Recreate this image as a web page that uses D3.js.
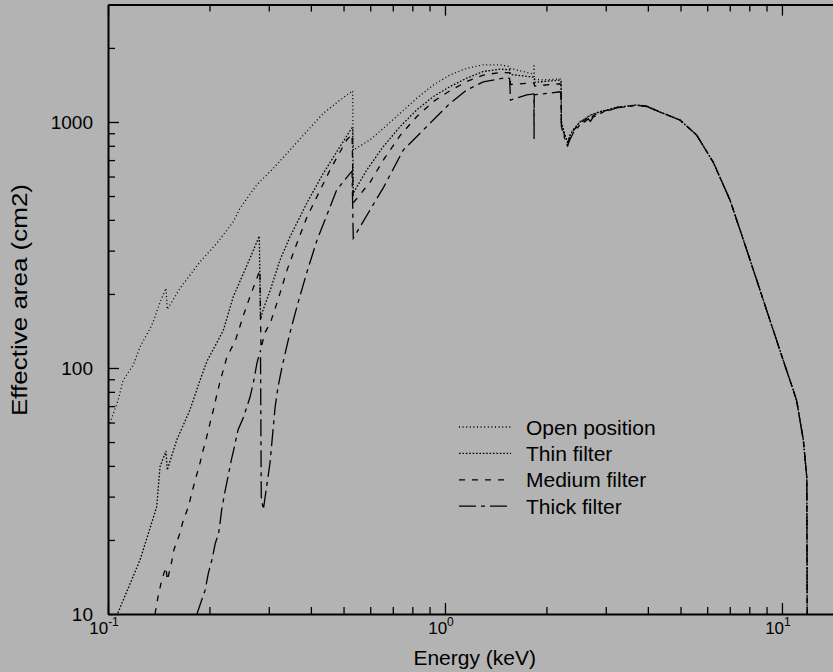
<!DOCTYPE html>
<html>
<head>
<meta charset="utf-8">
<script src="https://cdn.jsdelivr.net/npm/d3@7"></script>
<style>
  html, body { margin: 0; padding: 0; background: #b3b3b3; }
  svg { display: block; }
  text { font-family: "Liberation Sans", Arial, Helvetica, sans-serif; fill: #000; }
</style>
</head>
<body>
<svg id="chart" width="833" height="672"></svg>
<script>
// Effective area curves: [energy (keV), effective area (cm2)]
const openPosition = [
  [0.100, 58], [0.1014, 60], [0.1072, 74], [0.1108, 89], [0.1189, 103], [0.1245, 122],
  [0.1342, 147], [0.1369, 157], [0.1427, 185], [0.1486, 211], [0.1499, 173], [0.1636, 211],
  [0.1875, 270], [0.2102, 321], [0.2354, 393], [0.2464, 446], [0.2762, 555], [0.3094, 648],
  [0.3467, 769], [0.3886, 914], [0.4353, 1084], [0.4880, 1228], [0.5282, 1327], [0.532, 1340],
  [0.5343, 769], [0.599, 845], [0.656, 942], [0.7355, 1084], [0.824, 1247], [0.923, 1413],
  [1.035, 1553], [1.160, 1652], [1.299, 1707], [1.456, 1707], [1.555, 1680], [1.560, 1652],
  [1.787, 1578], [1.836, 1565], [1.838, 1720], [1.840, 1490], [1.957, 1483], [2.194, 1495],
  [2.21, 1480], [2.215, 1010], [2.27, 885], [2.30, 845], [2.315, 800], [2.35, 885],
  [2.40, 930], [2.516, 1002], [2.70, 1067], [2.884, 1102], [3.232, 1148], [3.70, 1173],
  [3.97, 1160], [4.345, 1098], [4.98, 1019], [5.58, 885], [6.25, 687], [7.01, 482],
  [7.86, 302], [8.80, 189], [9.86, 118], [11.05, 74], [11.57, 51], [11.85, 36], [11.9, 5]
];

const thinFilter = [
  [0.106, 9.8], [0.111, 11.4], [0.1245, 16.6], [0.1395, 27.3], [0.1416, 35], [0.1427, 39.7],
  [0.1486, 46], [0.1499, 38.5], [0.160, 51], [0.175, 67.5], [0.1875, 89], [0.1963, 106],
  [0.2198, 142], [0.2354, 195], [0.2638, 279], [0.2812, 344], [0.2835, 157], [0.2884, 172],
  [0.303, 207], [0.324, 275], [0.347, 342], [0.3715, 412], [0.3886, 467], [0.4353, 618],
  [0.488, 794], [0.528, 942], [0.532, 950], [0.5343, 514], [0.586, 638], [0.656, 794],
  [0.7355, 957], [0.824, 1119], [0.923, 1268], [1.035, 1393], [1.16, 1507], [1.299, 1604],
  [1.456, 1640], [1.555, 1630], [1.565, 1560], [1.787, 1528], [1.838, 1520], [1.845, 1450],
  [1.957, 1460], [2.194, 1480], [2.21, 1465], [2.215, 1000], [2.27, 880], [2.31, 830],
  [2.35, 880], [2.40, 925], [2.516, 1000], [2.70, 1065], [2.884, 1100], [3.232, 1146],
  [3.70, 1172], [3.97, 1160], [4.345, 1098], [4.98, 1019], [5.58, 885], [6.25, 687],
  [7.01, 482], [7.86, 302], [8.80, 189], [9.86, 118], [11.05, 74], [11.57, 51],
  [11.85, 36], [11.9, 5]
];

const mediumFilter = [
  [0.1379, 10], [0.1407, 11.7], [0.1443, 13.7], [0.1486, 15.5], [0.150, 13.7], [0.1545, 16.3],
  [0.1568, 18.2], [0.1635, 21.3], [0.1673, 24.1], [0.1733, 27.3], [0.1772, 31.0], [0.1816, 35.1],
  [0.1875, 41.1], [0.1916, 46.4], [0.1963, 52.5], [0.2009, 59.8], [0.2054, 67.5], [0.2102, 77.5],
  [0.2150, 88], [0.225, 110], [0.2391, 130], [0.2524, 164], [0.2638, 195], [0.2728, 220],
  [0.2823, 250], [0.2845, 120], [0.292, 139], [0.303, 152], [0.3194, 189], [0.3398, 250],
  [0.3638, 322], [0.3895, 411], [0.4559, 638], [0.5107, 845], [0.530, 890], [0.5343, 469],
  [0.600, 570], [0.656, 700], [0.7355, 880], [0.824, 1050], [0.923, 1210], [1.035, 1340],
  [1.16, 1460], [1.299, 1550], [1.456, 1590], [1.555, 1585], [1.565, 1420], [1.787, 1440],
  [1.838, 1440], [1.845, 1400], [1.957, 1410], [2.194, 1430], [2.21, 1420], [2.215, 990],
  [2.27, 870], [2.31, 820], [2.35, 870], [2.40, 920], [2.516, 990], [2.66, 1040], [2.70, 1020],
  [2.75, 1060], [2.884, 1095], [3.232, 1145], [3.70, 1170], [3.97, 1158], [4.345, 1098],
  [4.98, 1019], [5.58, 885], [6.25, 687], [7.01, 482], [7.86, 302], [8.80, 189], [9.86, 118],
  [11.05, 74], [11.57, 51], [11.85, 36], [11.9, 5]
];

const thickFilter = [
  [0.1836, 10], [0.1897, 11.4], [0.1942, 12.5], [0.1986, 14.7], [0.2034, 16.6], [0.2082, 19.4],
  [0.2130, 21.3], [0.2150, 23.4], [0.2174, 26.5], [0.2219, 31.0], [0.2270, 36.1], [0.2323, 42.3],
  [0.2371, 47.7], [0.2431, 56], [0.2524, 63], [0.2581, 69.4], [0.2638, 76], [0.2698, 86.7],
  [0.2768, 105], [0.2835, 118], [0.2850, 30], [0.289, 26.5], [0.2984, 36.1], [0.3025, 41.1],
  [0.3063, 49.5], [0.3133, 69.4], [0.3194, 83.5], [0.3284, 101], [0.3467, 139], [0.3663, 184],
  [0.3895, 246], [0.4172, 331], [0.4559, 451], [0.4771, 529], [0.5226, 618], [0.530, 630],
  [0.5343, 337], [0.600, 440], [0.656, 540], [0.752, 769], [0.882, 957], [1.035, 1191],
  [1.16, 1349], [1.299, 1455], [1.49, 1507], [1.555, 1505], [1.565, 1228], [1.75, 1288],
  [1.836, 1300], [1.838, 850], [1.840, 1290], [1.957, 1300], [2.194, 1327], [2.21, 1320],
  [2.215, 960], [2.27, 850], [2.31, 800], [2.35, 850], [2.40, 900], [2.516, 975], [2.62, 1010],
  [2.66, 1030], [2.70, 1005], [2.75, 1045], [2.884, 1085], [3.232, 1140], [3.70, 1168],
  [3.97, 1156], [4.345, 1096], [4.98, 1019], [5.58, 885], [6.25, 687], [7.01, 482],
  [7.86, 302], [8.80, 189], [9.86, 118], [11.05, 74], [11.57, 51], [11.85, 36], [11.9, 5]
];

const seriesNames = ["Open position", "Thin filter", "Medium filter", "Thick filter"];

const xMajorTicks = [0.1, 1, 10];
const xTickExponents = ["-1", "0", "1"];
const xMinorTicks = [0.2, 0.3, 0.4, 0.5, 0.6, 0.7, 0.8, 0.9, 2, 3, 4, 5, 6, 7, 8, 9];
const yMajorTicks = [10, 100, 1000];
const yTickLabels = ["10", "100", "1000"];
const yMinorTicks = [20, 30, 40, 50, 60, 70, 80, 90, 200, 300, 400, 500, 600, 700, 800, 900, 2000];

const xTitle = "Energy (keV)";
const yTitle = "Effective area (cm2)";

// ---- layout and styles ----
const plot = { left: 108, right: 841.3, top: 4.6, bottom: 614 };
const dashStyles = ["1,2.6", "1.6,1.8", "6,7", "17,5,4,5"];
const curveWidth = 1.3;

const svg = d3.select("#chart");

const x = d3.scaleLog().domain([0.1, 15]).range([plot.left, plot.right]);
const y = d3.scaleLog().domain([10, 3000]).range([plot.bottom, plot.top]);

svg.append("rect").attr("width", 833).attr("height", 672).attr("fill", "#b3b3b3");

svg.append("defs").append("clipPath").attr("id", "plotClip")
  .append("rect")
  .attr("x", plot.left).attr("y", plot.top)
  .attr("width", plot.right - plot.left).attr("height", plot.bottom - plot.top);

// ---- curves ----
const line = d3.line().x(d => x(d[0])).y(d => y(d[1]));
const allSeries = [openPosition, thinFilter, mediumFilter, thickFilter];

svg.append("g").attr("clip-path", "url(#plotClip)")
  .selectAll("path")
  .data(allSeries)
  .join("path")
  .attr("d", line)
  .attr("fill", "none")
  .attr("stroke", "#000")
  .attr("stroke-width", curveWidth)
  .attr("stroke-dasharray", (d, i) => dashStyles[i]);

// ---- axes ----
const isMajorX = v => xMajorTicks.includes(v);
const isMajorY = v => yMajorTicks.includes(v);

function styleAxis(g, isMajor, attr, sign) {
  g.attr("font-family", null);
  g.select(".domain").attr("stroke", "#000").attr("stroke-width", 2);
  g.selectAll(".tick line")
    .attr("stroke", "#000").attr("stroke-width", 1.3)
    .attr(attr, d => sign * (isMajor(d) ? 11 : 7));
}

const bottomAxis = svg.append("g")
  .attr("transform", `translate(0,${plot.bottom})`)
  .call(d3.axisBottom(x).tickValues([...xMajorTicks, ...xMinorTicks])
    .tickSizeInner(-7).tickSizeOuter(0).tickFormat(""));
styleAxis(bottomAxis, isMajorX, "y2", -1);

const topAxis = svg.append("g")
  .attr("transform", `translate(0,${plot.top})`)
  .call(d3.axisTop(x).tickValues([...xMajorTicks, ...xMinorTicks])
    .tickSizeInner(-7).tickSizeOuter(0).tickFormat(""));
styleAxis(topAxis, isMajorX, "y2", 1);

const leftAxis = svg.append("g")
  .attr("transform", `translate(${plot.left},0)`)
  .call(d3.axisLeft(y).tickValues([...yMajorTicks, ...yMinorTicks])
    .tickSizeInner(-7).tickSizeOuter(0).tickPadding(15)
    .tickFormat(d => isMajorY(d) ? yTickLabels[yMajorTicks.indexOf(d)] : ""));
styleAxis(leftAxis, isMajorY, "x2", 1);
leftAxis.selectAll(".tick text").attr("font-size", 19).attr("fill", "#000");

// power-of-ten labels under the energy axis
const xLabels = svg.append("g");
xMajorTicks.forEach((v, i) => {
  const t = xLabels.append("text")
    .attr("x", x(v) - 4).attr("y", 634)
    .attr("text-anchor", "middle")
    .attr("font-size", 17);
  t.append("tspan").text("10");
  t.append("tspan").attr("font-size", 12).attr("dy", -8).text(xTickExponents[i]);
});

// axis titles
svg.append("text")
  .attr("x", (plot.left + plot.right) / 2).attr("y", 665)
  .attr("text-anchor", "middle").attr("font-size", 21)
  .text(xTitle);

svg.append("text")
  .attr("transform", "translate(27,300) rotate(-90)")
  .attr("text-anchor", "middle").attr("font-size", 22)
  .attr("textLength", 232).attr("lengthAdjust", "spacingAndGlyphs")
  .text(yTitle);

// ---- legend ----
const legend = svg.append("g").attr("transform", "translate(459,427)");
const rows = legend.selectAll("g").data(seriesNames).join("g")
  .attr("transform", (d, i) => `translate(0,${i * 26.4})`);
rows.append("line")
  .attr("x1", 0).attr("x2", 52).attr("y1", 0).attr("y2", 0)
  .attr("stroke", "#000").attr("stroke-width", curveWidth)
  .attr("stroke-dasharray", (d, i) => dashStyles[i]);
rows.append("text")
  .attr("x", 67).attr("y", 7.5)
  .attr("font-size", 21)
  .text(d => d);
</script>
</body>
</html>
